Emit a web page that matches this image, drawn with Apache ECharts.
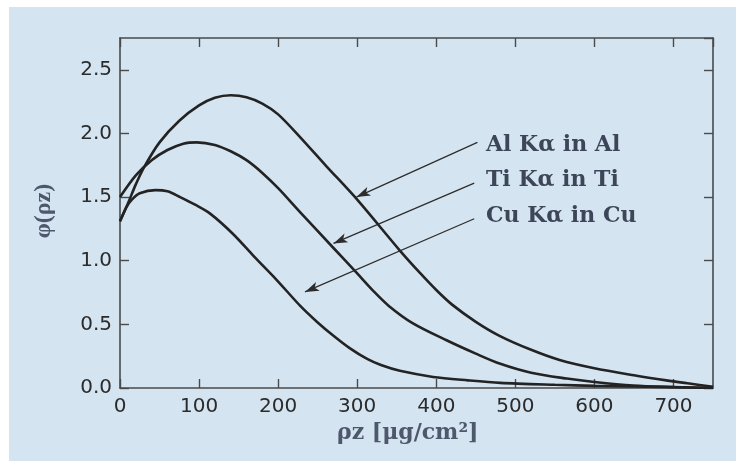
<!DOCTYPE html>
<html>
<head>
<meta charset="utf-8">
<script src="https://cdn.jsdelivr.net/npm/echarts@6/dist/echarts.min.js"></script>
<style>
  html, body { margin: 0; padding: 0; background: #ffffff; }
  #wrap { position: relative; width: 736px; height: 461px; background: #ffffff; overflow: hidden; }
  #panel { position: absolute; left: 9px; top: 7px; width: 727px; height: 454px; background: #d5e4f1; }
  #chart { position: absolute; left: 0; top: 0; width: 736px; height: 461px; }
</style>
</head>
<body>
<div id="wrap">
  <div id="panel"></div>
  <div id="chart"></div>
</div>
<script>
// Depth distributions phi(rho z) for three K-alpha emitters
const alX = [0, 10, 20, 30, 50, 75, 100, 120, 140, 160, 180, 200, 228, 260, 300, 354, 380, 400, 420, 450, 480, 520, 556, 600, 650, 691, 720, 750];
const alY = [1.31, 1.45, 1.60, 1.73, 1.93, 2.10, 2.22, 2.28, 2.30, 2.285, 2.235, 2.15, 1.97, 1.75, 1.48, 1.08, 0.90, 0.77, 0.655, 0.52, 0.41, 0.30, 0.22, 0.155, 0.10, 0.06, 0.035, 0.01];

const tiX = [0, 20, 40, 60, 80, 97, 120, 140, 160, 180, 200, 228, 270, 300, 320, 340, 370, 413, 450, 481, 520, 565, 600, 649, 700, 750];
const tiY = [1.50, 1.67, 1.79, 1.87, 1.92, 1.93, 1.91, 1.86, 1.79, 1.69, 1.57, 1.38, 1.10, 0.90, 0.765, 0.645, 0.51, 0.375, 0.27, 0.19, 0.12, 0.074, 0.047, 0.02, 0.008, 0.0];

const cuX = [0, 8, 15, 25, 45, 60, 76, 95, 114, 143, 170, 198, 228, 250, 270, 290, 312, 330, 354, 396, 440, 481, 550, 600, 700, 750];
const cuY = [1.31, 1.42, 1.48, 1.53, 1.555, 1.545, 1.50, 1.44, 1.37, 1.21, 1.03, 0.85, 0.645, 0.515, 0.41, 0.315, 0.23, 0.18, 0.135, 0.087, 0.06, 0.04, 0.025, 0.017, 0.007, 0.0];

// Curve labels and the arrows pointing from each label to its curve (data units)
const labels = ['Al K\u03b1 in Al', 'Ti K\u03b1 in Ti', 'Cu K\u03b1 in Cu'];
const arrowFrom = [[452, 1.93], [448, 1.61], [448, 1.33]];
const arrowTo = [[299, 1.50], [270, 1.136], [234, 0.755]];

const xTicks = [0, 100, 200, 300, 400, 500, 600, 700];
const yTicks = [0.0, 0.5, 1.0, 1.5, 2.0, 2.5];

const pairs = (xs, ys) => xs.map((x, i) => [x, ys[i]]);

const axisColor = '#4a4a4a';
const tickFont = { fontFamily: 'DejaVu Sans', fontSize: 20, color: '#2b2b2b' };

function curve(name, xs, ys) {
  return {
    name, type: 'line', data: pairs(xs, ys), showSymbol: false, symbol: 'none',
    smooth: 0.3,
    lineStyle: { color: '#232323', width: 2.6 },
    silent: true, animation: false, z: 3
  };
}

const arrows = {
  type: 'line', data: [], silent: true, animation: false, z: 4,
  markLine: {
    silent: true, animation: false,
    symbol: ['none', 'arrow'], symbolSize: [7, 14],
    lineStyle: { color: '#2c2c2c', width: 1.2, type: 'solid' },
    label: { show: false },
    data: arrowFrom.map((p, i) => [{ coord: p }, { coord: arrowTo[i] }])
  }
};

const chart = echarts.init(document.getElementById('chart'), null, { renderer: 'canvas' });

const baseAxis = {
  axisLine: { show: true, onZero: false, lineStyle: { color: axisColor, width: 1.6 } },
  axisTick: { show: true, inside: true, length: 9, lineStyle: { color: axisColor, width: 1.4 } },
  splitLine: { show: false }
};

const labelFont = 'bold 22px "DejaVu Serif"';

chart.setOption({
  backgroundColor: 'transparent',
  animation: false,
  grid: { left: 120, right: 23, top: 38, bottom: 73, outerBoundsMode: 'none', containLabel: false },
  xAxis: [
    Object.assign({}, baseAxis, {
      type: 'value', min: 0, max: 750, interval: 100, position: 'bottom',
      axisLabel: Object.assign({ margin: 9, showMaxLabel: false,
        formatter: v => (xTicks.includes(v) ? String(v) : '') }, tickFont)
    }),
    Object.assign({}, baseAxis, {
      type: 'value', min: 0, max: 750, interval: 100, position: 'top',
      axisLabel: { show: false }
    })
  ],
  yAxis: [
    Object.assign({}, baseAxis, {
      type: 'value', min: 0, max: 2.75, interval: 0.5, position: 'left',
      axisLabel: Object.assign({ margin: 8, showMaxLabel: false,
        formatter: v => (yTicks.some(t => Math.abs(t - v) < 1e-9) ? v.toFixed(1) : '') }, tickFont)
    }),
    Object.assign({}, baseAxis, {
      type: 'value', min: 0, max: 2.75, interval: 0.5, position: 'right',
      axisLabel: { show: false }
    })
  ],
  series: [
    curve(labels[0], alX, alY),
    curve(labels[1], tiX, tiY),
    curve(labels[2], cuX, cuY),
    arrows
  ],
  graphic: [
    { type: 'text', left: 486, top: 134, z: 10, silent: true,
      style: { text: labels[0], font: labelFont, fill: '#3d4659' } },
    { type: 'text', left: 486, top: 169, z: 10, silent: true,
      style: { text: labels[1], font: labelFont, fill: '#3d4659' } },
    { type: 'text', left: 486, top: 205, z: 10, silent: true,
      style: { text: labels[2], font: labelFont, fill: '#3d4659' } },
    { type: 'text', left: 337, top: 422, z: 10, silent: true,
      style: { text: '\u03c1z [\u03bcg/cm\u00b2]', font: 'bold 22px "DejaVu Serif"', fill: '#4e586c' } },
    { type: 'text', x: 44, y: 211, rotation: Math.PI / 2, z: 10, silent: true,
      style: { text: '\u03c6(\u03c1z)', font: 'bold 24px "Liberation Serif"', fill: '#4e586c',
               align: 'center', verticalAlign: 'middle' } }
  ]
});
</script>
</body>
</html>
